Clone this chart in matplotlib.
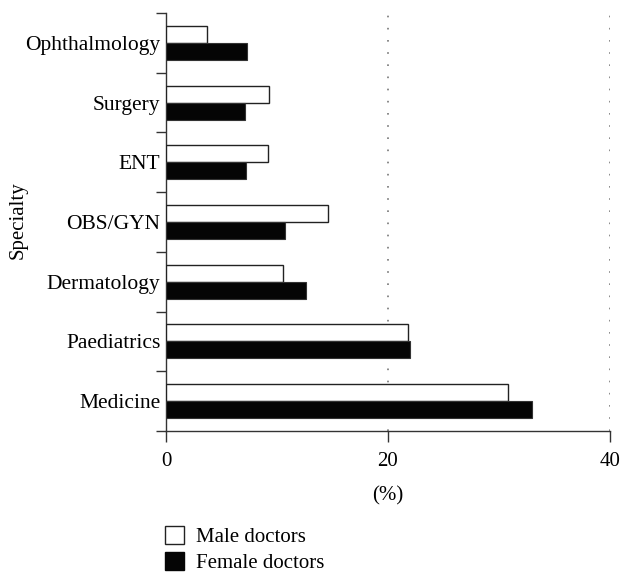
import matplotlib
matplotlib.use("Agg")
import matplotlib.pyplot as plt
from matplotlib.patches import Patch
from matplotlib.ticker import FixedLocator, NullFormatter
import numpy as np

specialties = ["Ophthalmology", "Surgery", "ENT", "OBS/GYN", "Dermatology", "Paediatrics", "Medicine"]
male = [3.7, 9.3, 9.2, 14.6, 10.5, 21.8, 30.8]
female = [7.3, 7.1, 7.2, 10.7, 12.6, 22.0, 33.0]
xticks = [0, 20, 40]
legend_labels = ["Male doctors", "Female doctors"]

plt.rcParams['font.family'] = ['Liberation Serif', 'DejaVu Serif']
plt.rcParams['font.size'] = 15

fig = plt.figure(figsize=(6.21, 5.74), dpi=100)
ax = fig.add_axes([166/621, 1-431/574, (610-166)/621, (431-13)/574])

y = np.arange(len(specialties))
h = 0.285
ax.barh(y - h/2, male, height=h, color='white', edgecolor='#222222', linewidth=1.0, zorder=3)
ax.barh(y + h/2, female, height=h, color='#050505', edgecolor='#333333', linewidth=0.8, zorder=3)

ax.set_xlim(0, 40)
ax.set_ylim(len(specialties) - 0.5, -0.5)

for xv in [20, 40]:
    ax.axvline(xv, color='#777777', linewidth=1.2, linestyle=(0, (1, 6.3)), zorder=1)

ax.set_xticks(xticks)
ax.set_xticklabels([str(v) for v in xticks])
ax.set_yticks(y)
ax.set_yticklabels(specialties, fontsize=15.5)
ax.yaxis.set_minor_locator(FixedLocator(np.arange(-0.5, len(specialties), 1.0)))
ax.yaxis.set_minor_formatter(NullFormatter())
ax.tick_params(axis='y', which='major', length=0, pad=4)
ax.tick_params(axis='y', which='minor', length=7, width=1.0, color='#333333', direction='out')
ax.tick_params(axis='x', which='major', length=8, width=1.0, color='#333333', direction='out', pad=7)

for s in ['top', 'right']:
    ax.spines[s].set_visible(False)
for s in ['left', 'bottom']:
    ax.spines[s].set_linewidth(1.0)
    ax.spines[s].set_color('#333333')

ax.set_xlabel("(%)", labelpad=11)
fig.text(18/621, 1-220/574, "Specialty", rotation=90, ha='center', va='center', fontsize=15)

handles = [Patch(facecolor='white', edgecolor='#222222', linewidth=1.0),
           Patch(facecolor='#050505', edgecolor='#050505', linewidth=1.0)]
fig.legend(handles, legend_labels, loc='upper left', bbox_to_anchor=(165/621, 1-526/574),
           frameon=False, handlelength=0.9, handleheight=0.95, handletextpad=0.6,
           labelspacing=0.22, borderaxespad=0, borderpad=0)

fig.savefig("out.png", dpi=100)
